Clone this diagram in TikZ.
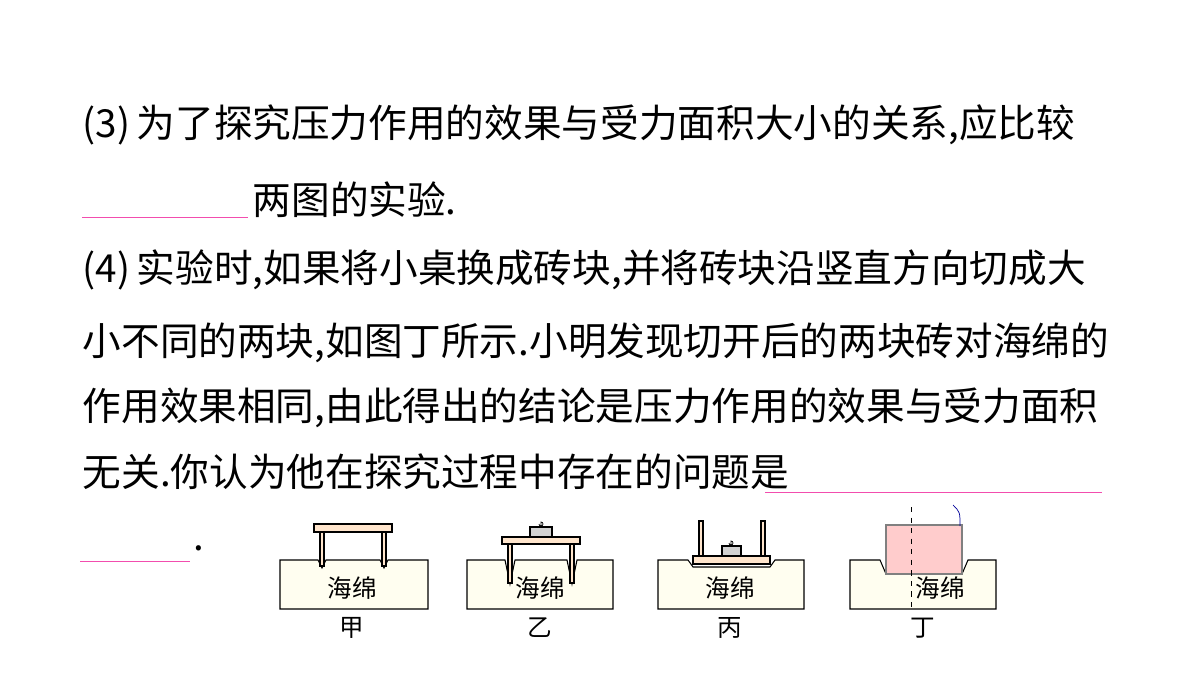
\documentclass[tikz,border=0pt]{standalone}
\usepackage{fontspec}
\setmainfont{Noto Sans CJK SC}
\newfontfamily\cjk{Noto Sans CJK SC}
\tikzset{
  line/.style = {anchor = west, inner sep = 0pt, font = \fontsize{22}{22}\selectfont},
  blank/.style = {draw = magenta!70, thin},
  sponge/.style = {draw, fill = yellow!6},
  wood/.style = {draw, fill = orange!20},
  small/.style = {font = \fontsize{14}{14}\selectfont}
}
\begin{document}
\begin{tikzpicture}[x = 0.02cm, y = -0.02cm, thick]
    \useasboundingbox (0, 0) rectangle (1200, 675);

    % text lines
    \node [line] (l1) at (82, 125) {(3)\,为了探究压力作用的效果与受力面积大小的关系,应比较};
    \node [line] (l2) at (252, 200) {两图的实验.};
    \node [line] (l3) at (82, 270) {(4)\,实验时,如果将小桌换成砖块,并将砖块沿竖直方向切成大};
    \node [line] (l4) at (82, 343) {小不同的两块,如图丁所示.小明发现切开后的两块砖对海绵的};
    \node [line] (l5) at (82, 408) {作用效果相同,由此得出的结论是压力作用的效果与受力面积};
    \node [line] (l6) at (82, 472) {无关.你认为他在探究过程中存在的问题是};
    \node [line] (l7) at (193, 548) {.};
    \draw [blank] (82, 217) -- (248, 217);
    \draw [blank] (765, 492) -- (1102, 492);
    \draw [blank] (80, 561) -- (190, 561);

    % 甲
    \begin{scope}[semithick]
        \draw [sponge] (280, 609) -- (280, 560) -- (318, 560) -- (322, 568) -- (326, 560) -- (380, 560)
            -- (384, 568) -- (388, 560) -- (428, 560) -- (428, 609) -- cycle;
        \draw [wood] (320, 532) rectangle (324, 566);
        \draw [wood] (382, 532) rectangle (386, 566);
        \draw [wood] (314, 524) rectangle (392, 532);
        \node [small] (s1) at (352, 588) {海绵};
        \node [small] (c1) at (352, 628) {甲};

    % 乙
        \draw [sponge] (467, 609) -- (467, 560) -- (505, 560) -- (510, 584) -- (515, 560) -- (567, 560)
            -- (572, 584) -- (577, 560) -- (613, 560) -- (613, 609) -- cycle;
        \draw [wood] (508, 544) rectangle (512, 583);
        \draw [wood] (570, 544) rectangle (574, 583);
        \draw [wood] (502, 537) rectangle (580, 544);
        \draw [fill = gray!35] (530, 527) rectangle (552, 537);
        \draw [thin] (541, 527) -- (541, 522) arc (-90 : 180 : 2);
        \node [small] (s2) at (540, 588) {海绵};
        \node [small] (c2) at (540, 628) {乙};

    % 丙
        \draw [sponge] (658, 609) -- (658, 560) -- (688, 560) -- (693, 567) -- (770, 567) -- (775, 560)
            -- (804, 560) -- (804, 609) -- cycle;
        \draw [wood] (693, 556) rectangle (770, 564);
        \draw [wood] (699, 521) rectangle (703, 556);
        \draw [wood] (761, 521) rectangle (765, 556);
        \draw [fill = gray!35] (722, 546) rectangle (741, 556);
        \draw [thin] (731, 546) -- (731, 541) arc (-90 : 180 : 2);
        \node [small] (s3) at (730, 588) {海绵};
        \node [small] (c3) at (730, 628) {丙};

    % 丁
        \draw [sponge] (850, 609) -- (850, 560) -- (880, 560) -- (886, 574) -- (962, 574) -- (968, 560)
            -- (996, 560) -- (996, 609) -- cycle;
        \draw [fill = red!20, draw = gray] (886, 525) rectangle (962, 574);
        \draw [dashed, thin] (911, 507) -- (911, 608);
        \draw [thin, blue!60!black] (960, 526) .. controls (960, 512) .. (953, 505);
        \node [small] (s4) at (940, 588) {海绵};
        \node [small] (c4) at (923, 628) {丁};
    \end{scope}
\end{tikzpicture}
\end{document}
